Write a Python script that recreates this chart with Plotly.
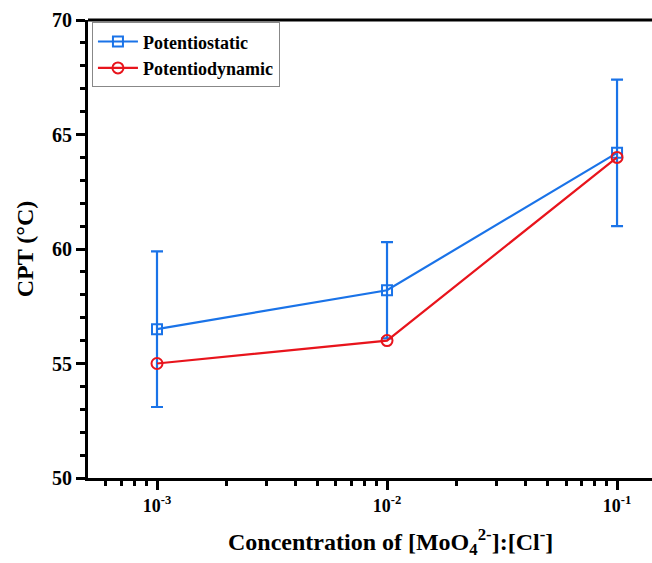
import numpy as np
import plotly.graph_objects as go

conc = [0.001, 0.01, 0.1]
potentiostatic = [56.5, 58.2, 64.2]
potentiostatic_err = [3.4, 2.1, 3.2]
potentiodynamic = [55.0, 56.0, 64.0]

tick_vals = [0.001, 0.01, 0.1]
tick_text = ["10<sup>-3</sup>", "10<sup>-2</sup>", "10<sup>-1</sup>"]
minor_vals = [m * 10.0 ** e for e in (-4, -3, -2, -1) for m in range(2, 10)]

blue = "#1a73e8"
red = "#e8141c"
font_family = "Liberation Serif"

fig = go.Figure()
fig.add_trace(go.Scatter(
    x=conc, y=potentiostatic, name="Potentiostatic", mode="lines+markers",
    line=dict(color=blue, width=2.2),
    marker=dict(symbol="square-open", size=10, color=blue, line=dict(width=2)),
    error_y=dict(type="data", array=potentiostatic_err, visible=True,
                 color=blue, thickness=2.2, width=6),
))
fig.add_trace(go.Scatter(
    x=conc, y=potentiodynamic, name="Potentiodynamic", mode="lines+markers",
    line=dict(color=red, width=2.2),
    marker=dict(symbol="circle-open", size=11, color=red, line=dict(width=2)),
))

fig.update_layout(
    width=652, height=563,
    margin=dict(l=88, r=0, t=20, b=85),
    plot_bgcolor="white", paper_bgcolor="white",
    font=dict(family=font_family, color="black"),
    showlegend=True,
    legend=dict(x=0.007, y=0.995, xanchor="left", yanchor="top",
                bordercolor="#888888", borderwidth=1, bgcolor="white",
                font=dict(family=font_family, size=18, color="black", weight="bold"),
                tracegroupgap=0, itemwidth=40),
    xaxis=dict(
        type="log", range=[np.log10(0.001) - 0.3, np.log10(0.1) + 0.152],
        showgrid=False, zeroline=False,
        showline=True, linewidth=3, linecolor="black",
        ticks="outside", ticklen=9, tickwidth=3, tickcolor="black",
        tickvals=tick_vals, ticktext=tick_text,
        tickfont=dict(family=font_family, size=18, weight="bold"),
        minor=dict(tickvals=minor_vals, ticks="outside", ticklen=5,
                   tickwidth=3, tickcolor="black", showgrid=False),
    ),
    yaxis=dict(
        range=[50, 70], showgrid=False, zeroline=False,
        showline=True, linewidth=3, linecolor="black",
        ticks="outside", ticklen=9, tickwidth=3, tickcolor="black",
        tickvals=[50, 55, 60, 65, 70],
        tickfont=dict(family=font_family, size=20, weight="bold"),
        minor=dict(dtick=1, ticks="outside", ticklen=5, tickwidth=3,
                   tickcolor="black", showgrid=False),
        title=dict(text="CPT (°C)",
                   font=dict(family=font_family, size=24, weight="bold"),
                   standoff=12),
    ),
)
fig.add_annotation(
    text="Concentration of [MoO<sub>4</sub><sup>2-</sup>]:[Cl<sup>-</sup>]",
    xref="paper", yref="paper", x=0.537, y=-0.14,
    xanchor="center", yanchor="middle", showarrow=False,
    font=dict(family=font_family, size=24, weight="bold", color="black"),
)
fig.add_shape(type="line", xref="paper", yref="paper", x0=0, x1=1, y0=1, y1=1,
              line=dict(color="black", width=3))

fig.write_html("out.html")
